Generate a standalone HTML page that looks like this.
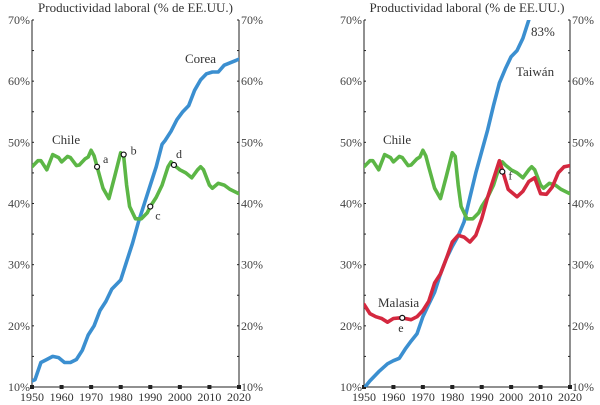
<!DOCTYPE html>
<html><head><meta charset="utf-8"><style>
body{margin:0;background:#fff}
svg{display:block;font-family:"Liberation Serif",serif}
</style></head><body>
<svg id="c" width="600" height="405" viewBox="0 0 600 405"></svg>
<script>
const years=[1950,1960,1970,1980,1990,2000,2010,2020];
const yTicks=[10,20,30,40,50,60,70];
const chileX=[1950,1952,1953,1955,1957,1959,1960,1962,1963,1965,1966,1968,1969,1970,1971,1972,1974,1976,1978,1980,1981,1982,1983,1985,1987,1989,1990,1992,1994,1996,1997,1998,2000,2002,2004,2006,2007,2008,2010,2011,2013,2015,2017,2020];
const chileY=[46,47,47,45.5,48,47.5,46.8,47.7,47.5,46.2,46.3,47.3,47.6,48.7,47.8,46,42.5,40.8,44.5,48.3,47.7,43,39.5,37.5,37.5,38.5,39.5,41,43,46,46.8,46.3,45.5,45,44.2,45.5,46,45.5,43,42.5,43.3,43,42.3,41.6];
const koreaX=[1950,1951,1953,1955,1957,1959,1961,1963,1965,1967,1969,1971,1973,1975,1977,1979,1980,1982,1984,1986,1988,1990,1992,1994,1995,1997,1999,2001,2003,2005,2007,2009,2011,2013,2015,2017,2019,2020];
const koreaY=[11,11.2,14,14.5,15,14.8,14,14,14.5,16,18.5,20,22.5,24,26,27,27.5,30.5,33.5,37,40,43,46,49.7,50.3,51.8,53.7,55,56,58.5,60.2,61.2,61.5,61.5,62.6,63,63.4,63.6];
const taiwanX=[1950,1952,1955,1958,1960,1962,1964,1966,1968,1970,1972,1974,1976,1978,1980,1982,1984,1986,1988,1990,1992,1994,1996,1998,2000,2002,2004,2006,2007];
const taiwanY=[9.8,11,12.5,13.8,14.3,14.7,16.2,17.5,18.7,21.5,23.5,25.5,28.5,31,33,34.7,37,41,45,48.5,52,56,59.7,62,64,65,67,70,72];
const malX=[1950,1952,1954,1956,1958,1960,1962,1964,1966,1968,1970,1972,1974,1976,1978,1980,1982,1984,1986,1988,1990,1992,1994,1996,1997,1999,2002,2004,2006,2008,2010,2012,2014,2016,2018,2020];
const malY=[23.5,22,21.5,21.2,20.6,21.2,21.3,21.2,21,21.5,22.5,24,27,28.5,31,33.7,34.8,34.5,33.7,34.8,37.5,41,44,47,45.5,42.3,41.1,42,43.6,44.2,41.6,41.5,42.7,45,46,46.2];
const markL=[["a",1972,46,6,-4],["b",1981,48,7,0],["c",1990,39.5,5,13],["d",1998,46.3,2,-7]];
const markR=[["e",1963,21.3,-4,14],["f",1997,45.2,6,8]];

const svg=document.getElementById('c');
const NS="http://www.w3.org/2000/svg";
function mk(t,a,p){const e=document.createElementNS(NS,t);for(const k in a)e.setAttribute(k,a[k]);(p||svg).appendChild(e);return e;}
function yS(v){return 387-(v-10)*6.117;}
function panel(x0,x1,name){
  const g=mk('g',{});
  
  
  const xS=y=>x0+(y-1950)*(x1-x0)/70;
  const clipId=name+'-clip';
  const cp=mk('clipPath',{id:clipId},g);mk('rect',{x:x0,y:yS(70),width:x1-x0,height:yS(10)-yS(70)},cp);
  const t=mk('text',{x:(x0+x1)/2,y:12,'text-anchor':'middle','font-size':'13',fill:'#333'},g);
  t.textContent='Productividad laboral (% de EE.UU.)';
  
  
  mk('line',{x1:x0,x2:x0,y1:yS(70),y2:yS(10),stroke:'#222','stroke-width':1},g);
  mk('line',{x1:x1,x2:x1,y1:yS(70),y2:yS(10),stroke:'#222','stroke-width':1},g);
  mk('line',{x1:x0,x2:x1,y1:yS(10),y2:yS(10),stroke:'#222','stroke-width':1},g);
  for(let v=10;v<=70;v+=5){
    mk('line',{x1:x0,x2:x0+2,y1:yS(v),y2:yS(v),stroke:'#222'},g);
    mk('line',{x1:x1-2,x2:x1,y1:yS(v),y2:yS(v),stroke:'#222'},g);
  }
  yTicks.forEach(v=>{
    const l=mk('text',{x:x0-2,y:yS(v)+4,'text-anchor':'end','font-size':'12',fill:'#444'},g);l.textContent=v+'%';
    
    
    const r=mk('text',{x:x1+2,y:yS(v)+4,'text-anchor':'start','font-size':'12',fill:'#444'},g);r.textContent=v+'%';
    
    
  });
  years.forEach(y=>{
    mk('rect',{x:xS(y)-2,y:yS(10)-2,width:4,height:4,fill:'#222'},g);
    const l=mk('text',{x:xS(y),y:401,'text-anchor':'middle','font-size':'12',fill:'#333'},g);l.textContent=y;
    
    
  });
  return {g,xS,clipId};
}
function line(P,X,Y,col,name){
  const d=X.map((x,i)=>(i?'L':'M')+P.xS(x).toFixed(1)+','+yS(Y[i]).toFixed(1)).join('');
  const p=mk('path',{d,fill:'none',stroke:col,'stroke-width':3.6,'stroke-linejoin':'round','stroke-linecap':'round','clip-path':'url(#'+P.clipId+')'},P.g);
  
  
}
function label(P,x,y,txt,name){
  const t=mk('text',{x,y,'font-size':'13',fill:'#333'},P.g);t.textContent=txt;
  
  
}
function marks(P,M){
  M.forEach(m=>{
    const c=mk('circle',{cx:P.xS(m[1]),cy:yS(m[2]),r:2.5,fill:'#fff',stroke:'#111','stroke-width':1.2},P.g);
    
    
    const t=mk('text',{x:P.xS(m[1])+m[3],y:yS(m[2])+m[4],'font-size':'12',fill:'#333'},P.g);t.textContent=m[0];
    
    
  });
}
const L=panel(32,239,'left-panel');
line(L,koreaX,koreaY,'#3b8fd0','korea-line');
line(L,chileX,chileY,'#5cb646','chile-line-left');
marks(L,markL);
label(L,185,63,'Corea','korea-label');
label(L,52,144,'Chile','chile-label-left');
const R=panel(364,570,'right-panel');
line(R,taiwanX,taiwanY,'#3b8fd0','taiwan-line');
line(R,chileX,chileY,'#5cb646','chile-line-right');
line(R,malX,malY,'#d4283f','malaysia-line');
marks(R,markR);
label(R,531,36,'83%','taiwan-83-label');
label(R,516,76,'Taiwán','taiwan-label');
label(R,383,144,'Chile','chile-label-right');
label(R,378,307,'Malasia','malaysia-label');
</script>
</body></html>
